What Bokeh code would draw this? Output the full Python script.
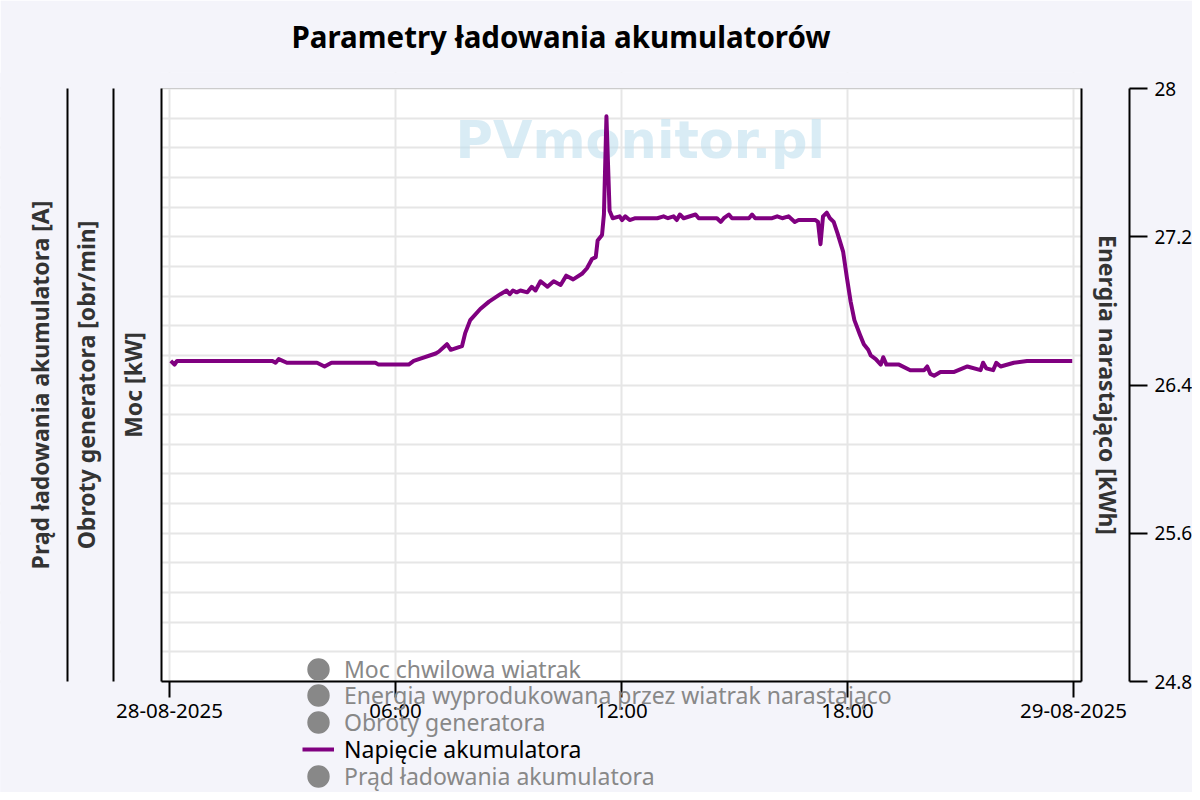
import numpy as np
import pandas as pd
from bokeh.plotting import figure
from bokeh.models import (LinearAxis, FixedTicker, Legend, LegendItem, Label, BoxAnnotation,
                          SingleIntervalTicker, Range1d, ColumnDataSource)
from bokeh.embed import file_html
from bokeh.resources import INLINE

# ---------------- data ----------------
DAY = "2025-08-28"
NEXT_DAY = "2025-08-29"
TITLE = "Parametry ładowania akumulatorów"

times = ["00:02", "00:08", "00:12", "02:44", "02:49", "02:54", "03:07", "03:55", "04:07", "04:18",
         "05:28", "05:33", "06:21", "06:29", "07:04", "07:09", "07:22", "07:28", "07:46", "07:51",
         "07:59", "08:15", "08:29", "08:47", "08:57", "09:02", "09:07", "09:13", "09:19", "09:30",
         "09:37", "09:43", "09:51", "10:02", "10:12", "10:23", "10:32", "10:43", "10:57", "11:05",
         "11:13", "11:19", "11:22", "11:29", "11:32", "11:36", "11:41", "11:46", "11:57", "12:01",
         "12:06", "12:13", "12:22", "12:36", "12:44", "12:57", "13:07", "13:14", "13:23", "13:28",
         "13:33", "13:39", "13:58", "14:03", "14:11", "14:32", "14:38", "14:43", "14:51", "14:56",
         "15:23", "15:28", "15:33", "16:00", "16:08", "16:16", "16:26", "16:36", "16:42", "17:09",
         "17:13", "17:17", "17:21", "17:27", "17:32", "17:38", "17:44", "17:53", "17:59", "18:05",
         "18:11", "18:20", "18:26", "18:33", "18:37", "18:45", "18:53", "18:57", "19:02", "19:22",
         "19:40", "20:02", "20:07", "20:12", "20:18", "20:28", "20:49", "21:11", "21:32", "21:36",
         "21:41", "21:52", "21:57", "22:04", "22:25", "22:46", "23:58"]

voltage = [26.53, 26.51, 26.53, 26.53, 26.52, 26.54, 26.52, 26.52, 26.50, 26.52,
           26.52, 26.51, 26.51, 26.53, 26.57, 26.58, 26.62, 26.59, 26.61, 26.68,
           26.75, 26.81, 26.85, 26.89, 26.91, 26.89, 26.91, 26.90, 26.91, 26.90,
           26.93, 26.91, 26.96, 26.93, 26.96, 26.94, 26.99, 26.97, 27.00, 27.03,
           27.08, 27.09, 27.18, 27.21, 27.32, 27.85, 27.34, 27.30, 27.31, 27.29,
           27.31, 27.29, 27.30, 27.30, 27.30, 27.30, 27.31, 27.30, 27.31, 27.29,
           27.32, 27.30, 27.32, 27.30, 27.30, 27.30, 27.28, 27.30, 27.32, 27.30,
           27.30, 27.32, 27.30, 27.30, 27.31, 27.30, 27.31, 27.28, 27.29, 27.29,
           27.28, 27.16, 27.31, 27.33, 27.30, 27.28, 27.22, 27.12, 26.98, 26.85,
           26.75, 26.67, 26.62, 26.59, 26.56, 26.54, 26.51, 26.55, 26.51, 26.51,
           26.48, 26.48, 26.50, 26.46, 26.45, 26.47, 26.47, 26.50, 26.48, 26.52,
           26.49, 26.48, 26.52, 26.50, 26.52, 26.53, 26.53]

xtick_times = [DAY + " 00:00", DAY + " 06:00", DAY + " 12:00", DAY + " 18:00", NEXT_DAY + " 00:00"]
xtick_labels = ["28-08-2025", "06:00", "12:00", "18:00", "29-08-2025"]

ytick_values = [24.8, 25.6, 26.4, 27.2, 28.0]
ytick_labels = ["24.8", "25.6", "26.4", "27.2", "28"]
y_min, y_max = 24.8, 28.0
grid_step = 0.16

legend_names = ["Moc chwilowa wiatrak",
                "Energia wyprodukowana przez wiatrak narastająco",
                "Obroty generatora",
                "Napięcie akumulatora",
                "Prąd ładowania akumulatora"]
main_series_index = 3

axis_left_labels = ["Moc [kW]", "Obroty generatora [obr/min]", "Prąd ładowania akumulatora [A]"]
axis_right_label = "Energia narastająco [kWh]"
watermark = "PVmonitor.pl"

# ---------------- layout (pixels) ----------------
FONT = "Noto Sans"
BG = "#f4f4fa"
GRID = "#e6e6e6"
W, H = 1192, 792
FRAME_TOP = 72                                   # canvas frame top (title sits above)
PA_L, PA_R, PA_T, PA_B = 161, 1081, 88, 681      # plot area
LEFT_AXES_PX = [161, 113, 67]                    # vertical axis lines on the left
LEFT_STANDOFF = [13, 12, 12]
RIGHT_LABEL_AXIS_PX, RIGHT_TICK_AXIS_PX = 1081, 1129
LEG_GLYPH_LEFT = 302
ROW0, ROW_STEP, ROW_H = 669, 26.75, 31.3


def to_ms(s):
    return (pd.Timestamp(s) - pd.Timestamp("1970-01-01")).total_seconds() * 1000.0


x_vals = pd.to_datetime([DAY + " " + t for t in times])
xt_ms = [to_ms(s) for s in xtick_times]
pad_ms = 12.75 * 60 * 1000
x_start = xt_ms[0] - pad_ms
x_end = xt_ms[-1] + pad_ms

ms_per_px = (x_end - x_start) / (PA_R - PA_L)
u_per_px = (y_max - y_min) / (PA_B - PA_T)
px2x = lambda px: x_start + (px - PA_L) * ms_per_px

# the frame spans the whole canvas width / lower part so that the side axes and the
# legend (which overlap the plot area border) are drawn inside it
x_lo, x_hi = px2x(0), px2x(W)
y_lo = y_min - (H - PA_B) * u_per_px
y_hi = y_max + (PA_T - FRAME_TOP) * u_per_px

p = figure(width=W, height=H, x_axis_type="datetime", y_axis_location=None,
           x_range=Range1d(x_lo, x_hi), y_range=Range1d(y_lo, y_hi),
           output_backend="svg", toolbar_location=None, title=TITLE,
           min_border_left=0, min_border_right=0, min_border_top=FRAME_TOP, min_border_bottom=0)

p.background_fill_color = BG
p.border_fill_color = BG
p.outline_line_color = None

# title
p.title.text_font = FONT
p.title.text_font_style = "bold"
p.title.text_font_size = "29.5px"
p.title.text_color = "black"
p.title.align = "left"
p.title.offset = 291
p.title.standoff = 0

# spacer between the title and the frame
p.add_layout(LinearAxis(ticker=FixedTicker(ticks=[]), axis_label=" ", axis_label_text_font_size="1px",
                        axis_label_standoff=12, axis_line_color=None,
                        major_tick_out=0, major_tick_in=0, minor_tick_out=0, minor_tick_in=0,
                        major_label_standoff=0, major_label_text_font_size="0px"), "above")

# white plot area (under the grid)
p.add_layout(BoxAnnotation(left=x_start, right=x_end, bottom=y_min, top=y_max,
                           fill_color="white", fill_alpha=1.0, line_color=None, level="image"))

# grids
p.xgrid.ticker = FixedTicker(ticks=xt_ms)
p.xgrid.grid_line_color = GRID
p.xgrid.grid_line_width = 2
p.ygrid.ticker = SingleIntervalTicker(interval=grid_step, num_minor_ticks=0)
p.ygrid.grid_line_color = GRID
p.ygrid.grid_line_width = 2

# page-coloured covers outside the plot area (hide grid lines there)
for kw in (dict(right=x_start), dict(left=x_end), dict(top=y_min), dict(bottom=y_max)):
    p.add_layout(BoxAnnotation(fill_color=BG, fill_alpha=1.0, line_color=None, level="underlay", **kw))

# bottom x axis
xa = p.below[0]
xa.fixed_location = y_min
xa.bounds = (x_start, x_end)
xa.ticker = FixedTicker(ticks=xt_ms)
xa.major_label_overrides = {v: l for v, l in zip(xt_ms, xtick_labels)}
xa.axis_line_color = "black"
xa.axis_line_width = 2
xa.major_tick_out = 16
xa.major_tick_in = 0
xa.major_tick_line_width = 2
xa.minor_tick_out = 0
xa.minor_tick_in = 0
xa.major_label_standoff = -2
xa.major_label_text_font = FONT
xa.major_label_text_font_size = "20.5px"
xa.major_label_text_color = "black"

# top border of the plot area
p.add_layout(LinearAxis(fixed_location=y_max, bounds=(x_start, x_end), ticker=FixedTicker(ticks=[]),
                        axis_line_color="#cccccc", axis_line_width=1,
                        major_tick_out=0, major_tick_in=0, minor_tick_out=0, minor_tick_in=0,
                        major_label_text_font_size="0px"), "above")


def label_axis(label, standoff, px):
    return LinearAxis(fixed_location=px2x(px), bounds=(y_min, y_max), ticker=FixedTicker(ticks=[]),
                      axis_label=label, axis_label_standoff=standoff,
                      axis_line_color="black", axis_line_width=2,
                      major_tick_out=0, major_tick_in=0, minor_tick_out=0, minor_tick_in=0,
                      major_label_standoff=0, major_label_text_font_size="0px",
                      axis_label_text_font=FONT, axis_label_text_font_style="bold",
                      axis_label_text_font_size="23px", axis_label_text_color="#333333")


# left axes
for lab, sto, px in zip(axis_left_labels, LEFT_STANDOFF, LEFT_AXES_PX):
    p.add_layout(label_axis(lab, sto, px), "left")

# right axes
p.add_layout(label_axis(axis_right_label, 10, RIGHT_LABEL_AXIS_PX), "right")
ra = LinearAxis(fixed_location=px2x(RIGHT_TICK_AXIS_PX), bounds=(y_min, y_max),
                ticker=FixedTicker(ticks=ytick_values),
                major_label_overrides={v: l for v, l in zip(ytick_values, ytick_labels)},
                axis_line_color="black", axis_line_width=2,
                major_tick_out=18, major_tick_in=0, major_tick_line_width=2,
                minor_tick_out=0, minor_tick_in=0, major_label_standoff=7,
                major_label_text_font=FONT, major_label_text_font_size="19px",
                major_label_text_color="black")
p.add_layout(ra, "right")

# watermark
p.add_layout(Label(x=to_ms(DAY + " 12:30"), y=27.72, text=watermark, text_font="DejaVu Sans",
                   text_font_style="bold", text_font_size="51px", text_color="#bfe0ee",
                   text_alpha=0.6, text_align="center", text_baseline="middle", level="underlay"))

# main series
src = ColumnDataSource(dict(x=x_vals, v=voltage))
main = p.line("x", "v", source=src, line_color="#800080", line_width=4, line_join="round")

# the other series are switched off in the original chart: legend entries only
renderers = []
for i, name in enumerate(legend_names):
    if i == main_series_index:
        renderers.append(main)
    else:
        renderers.append(p.ellipse(x=[np.nan], y=[np.nan], width=23, height=23, width_units="screen",
                                   height_units="screen", fill_color="#888888", line_color=None))

# one legend per row (switched-off entries grey, the visible one black)
for i, (name, r) in enumerate(zip(legend_names, renderers)):
    color = "black" if i == main_series_index else "#888888"
    bottom_px = ROW0 + ROW_STEP * i + ROW_H / 2
    lg = Legend(items=[LegendItem(label=name, renderers=[r])],
                location=(LEG_GLYPH_LEFT, H - bottom_px),
                orientation="vertical", padding=0, margin=0, spacing=0,
                glyph_width=32, glyph_height=28, label_height=28, label_standoff=10,
                border_line_color=None, background_fill_alpha=0,
                label_text_font=FONT, label_text_font_size="23px", label_text_color=color)
    p.add_layout(lg)

open("out.html", "w").write(file_html(p, INLINE))
